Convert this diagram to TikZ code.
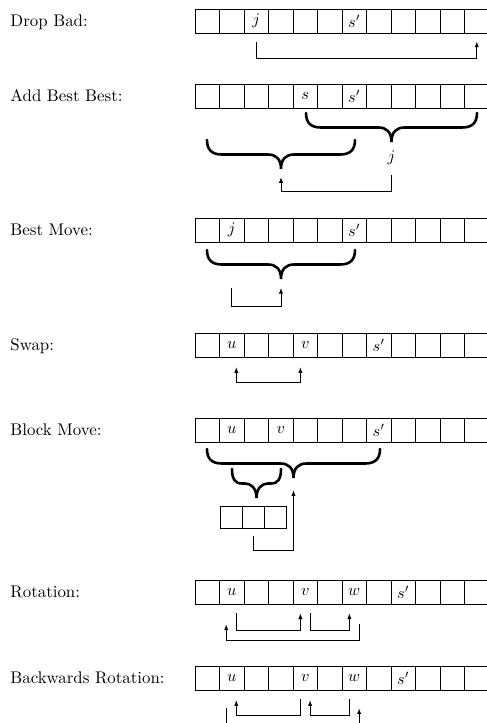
\documentclass[tikz,border=0pt]{standalone}
\usetikzlibrary{arrows.meta}

\tikzset{
  cell/.style={draw, minimum width=15.1pt, minimum height=14.8pt, inner sep=0pt},
  smallcell/.style={draw, minimum width=13.8pt, minimum height=13.6pt, inner sep=0pt},
  brc/.style={line width=1.6pt, line cap=round},
  move/.style={-{Latex[length=3.5pt,width=2.6pt]}},
  swapmove/.style={{Latex[length=3.5pt,width=2.6pt]}-{Latex[length=3.5pt,width=2.6pt]}}
}

\begin{document}
\begin{tikzpicture}[x=0.617pt, y=-0.617pt, line width=0.55pt, font=\fontsize{10.4pt}{12pt}\selectfont]
\clip (0,0) rectangle (487,723);
% row labels
\foreach \r/\y/\t in {db/21/Drop Bad:, ab/96/Add Best Best:, bm/230/Best Move:, sw/345/Swap:,
                      bl/430/Block Move:, ro/592/Rotation:, br/678/Backwards Rotation:}
  \node[anchor=base west, inner sep=0pt] (lbl\r) at (10,\y+5) {\t};
% the tours, 12 cells each
\foreach \r/\y in {db/21, ab/96, bm/230, sw/345, bl/430, ro/592, br/678}
  \foreach \i in {1,...,12}
    \node[cell] (\r\i) at ({195+24.5*(\i-0.5)},\y) {};
\foreach \r/\i/\t in {db/3/j, db/7/s', ab/5/s, ab/7/s', bm/2/j, bm/7/s', sw/2/u, sw/5/v, sw/8/s',
                      bl/2/u, bl/4/v, bl/8/s', ro/2/u, ro/5/v, ro/7/w, ro/9/s',
                      br/2/u, br/5/v, br/7/w, br/9/s'}
  \node (\r t\i) at (\r\i) {$\t$};

% drop bad
\draw[move] ([yshift=-5pt]db3.south) -- ++(0,17) -| ([yshift=-5pt]db12.south);

% add best best
\draw[brc] (306,113) .. controls (306,123) and (311,127.5) .. (321,127.5) -- (378.5,127.5)
  .. controls (386.5,127.5) and (391.5,132) .. (391.5,142) coordinate (abtipr)
  .. controls (391.5,132) and (396.5,127.5) .. (404.5,127.5) -- (462,127.5)
  .. controls (472,127.5) and (477,123) .. (477,113);
\node (abj) at (abtipr |- 0,158) {$j$};
\draw[brc] (207,140) .. controls (207,150) and (212,154.5) .. (222,154.5) -- (268,154.5)
  .. controls (276,154.5) and (281,159) .. (281,169) coordinate (abtipl)
  .. controls (281,159) and (286,154.5) .. (294,154.5) -- (340,154.5)
  .. controls (350,154.5) and (355,150) .. (355,140);
\draw[move] ([yshift=-2.5pt]abj.south) -- ++(0,17) -| ([yshift=-5pt]abtipl);

% best move
\draw[brc] (207,250) .. controls (207,260) and (212,264.5) .. (222,264.5) -- (268,264.5)
  .. controls (276,264.5) and (281,269) .. (281,279) coordinate (bmtip)
  .. controls (281,269) and (286,264.5) .. (294,264.5) -- (340,264.5)
  .. controls (350,264.5) and (355,260) .. (355,250);
\draw[move] ([yshift=-5.5pt]bm2 |- bmtip) -- ++(0,19) -| ([yshift=-5.5pt]bmtip);

% swap
\draw[swapmove] ([xshift=2.8pt,yshift=-6pt]sw2.south) -- ++(0,15) -| ([xshift=-3pt,yshift=-6pt]sw5.south);

% block move
\draw[brc] (207,449) .. controls (207,459) and (212,463.5) .. (222,463.5) -- (280.5,463.5)
  .. controls (288.5,463.5) and (293.5,468) .. (293.5,478) coordinate (bltip)
  .. controls (293.5,468) and (298.5,463.5) .. (306.5,463.5) -- (365,463.5)
  .. controls (375,463.5) and (380,459) .. (380,449);
\draw[brc] (232,469) .. controls (232,479) and (235,483.5) .. (242,483.5) -- (245,483.5)
  .. controls (251,483.5) and (256.5,488) .. (256.5,498) coordinate (blsmall)
  .. controls (256.5,488) and (262,483.5) .. (268,483.5) -- (271,483.5)
  .. controls (278,483.5) and (281,479) .. (281,469);
\foreach \i in {1,2,3}
  \node[smallcell] (blk\i) at ({220+22.3*(\i-0.5)},517) {};
\draw[move] ([yshift=-4.5pt]blk2.south) -- ++(0,15) -| ([yshift=-7.5pt]bltip);

% rotation
\draw[move] ([xshift=2.8pt,yshift=-5.5pt]ro2.south) -- ++(0,17) -| ([xshift=-3pt,yshift=-5.5pt]ro5.south);
\draw[move] ([xshift=3pt,yshift=-5.5pt]ro5.south) -- ++(0,17) -| ([xshift=-3pt,yshift=-5.5pt]ro7.south);
\draw[move] ([xshift=3pt,yshift=-12.3pt]ro7.south) -- ++(0,16) -| ([xshift=-3.4pt,yshift=-12.3pt]ro2.south);

% backwards rotation
\draw[move] ([xshift=-3pt,yshift=-5pt]br5.south) -- ++(0,17) -| ([xshift=2.8pt,yshift=-6pt]br2.south);
\draw[move] ([xshift=-3pt,yshift=-5pt]br7.south) -- ++(0,17) -| ([xshift=3pt,yshift=-6pt]br5.south);
\draw[move] ([xshift=-3.4pt,yshift=-11pt]br2.south) -- ++(0,17) -| ([xshift=3pt,yshift=-11pt]br7.south);
\end{tikzpicture}
\end{document}
